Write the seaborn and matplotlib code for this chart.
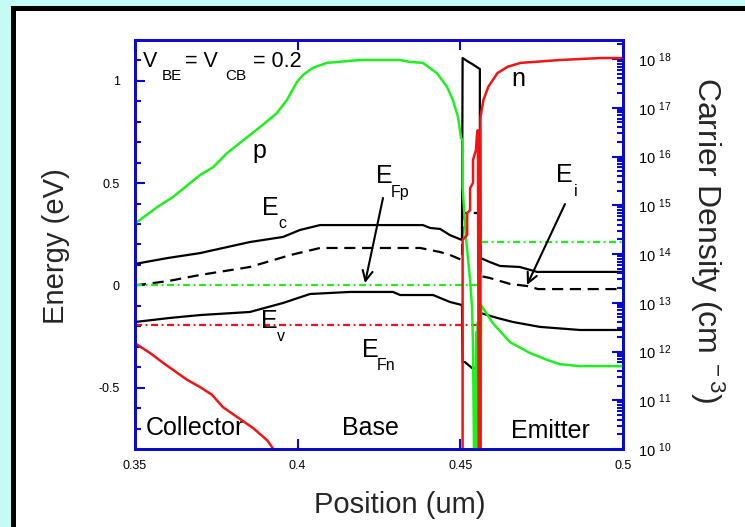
import matplotlib
matplotlib.use('Agg')
import matplotlib.pyplot as plt
import matplotlib.ticker as mticker
from matplotlib.patches import Rectangle
import seaborn as sns

# ---------------- data ----------------
# Conduction band Ec (eV)
ec_x = [0.3500, 0.3601, 0.3700, 0.3853, 0.3955, 0.4007, 0.4069, 0.4385, 0.4407, 0.4438,
        0.4468, 0.4505, 0.4507, 0.4521, 0.4536, 0.4560, 0.4560, 0.4562, 0.4591, 0.4622,
        0.4683, 0.4736, 0.5000]
ec_e = [0.105, 0.134, 0.158, 0.212, 0.237, 0.271, 0.295, 0.295, 0.281, 0.276,
        0.246, 0.222, 1.112, 1.097, 1.083, 1.058, 0.823, 0.134, 0.114, 0.095,
        0.090, 0.066, 0.066]
# Intrinsic level Ei (eV)
ei_x = [0.3500, 0.3601, 0.3700, 0.3853, 0.3979, 0.4069, 0.4377, 0.4438, 0.4468, 0.4505,
        0.4507, 0.4542, 0.4560, 0.4562, 0.4591, 0.4653, 0.4705, 0.4739, 0.5000]
ei_e = [0.000, 0.021, 0.051, 0.090, 0.149, 0.183, 0.183, 0.163, 0.149, 0.124,
        0.354, 0.354, 0.354, 0.046, 0.036, 0.007, -0.003, -0.018, -0.018]
# Valence band Ev (eV)
ev_x = [0.3500, 0.3608, 0.3700, 0.3853, 0.3955, 0.4038, 0.4161, 0.4293, 0.4315, 0.4416,
        0.4468, 0.4505, 0.4507, 0.4514, 0.4536, 0.4560, 0.4562, 0.4613, 0.4662, 0.4745,
        0.4868, 0.5000]
ev_e = [-0.179, -0.159, -0.145, -0.130, -0.086, -0.042, -0.032, -0.032, -0.047, -0.047,
        -0.081, -0.096, -0.375, -0.375, -0.404, -0.404, -0.135, -0.159, -0.179, -0.203,
        -0.218, -0.218]
# Quasi-Fermi levels (eV)
efp_base_x = [0.3500, 0.4554]
efp_base_e = [0.0, 0.0]
efp_emit_x = [0.4564, 0.5000]
efp_emit_e = [0.21, 0.21]
efn_x = [0.3500, 0.4551]
efn_e = [-0.195, -0.195]

# Hole density p (log10 cm^-3)
p_x = [0.3500, 0.3515, 0.3568, 0.3617, 0.3700, 0.3740, 0.3783, 0.3893, 0.3936, 0.3967,
       0.3998, 0.4016, 0.4047, 0.4090, 0.4192, 0.4315, 0.4345, 0.4385, 0.4428, 0.4459,
       0.4477, 0.4493, 0.4502, 0.4507, 0.4507, 0.4517, 0.4530, 0.4536, 0.4539, 0.4542,
       0.4545, 0.4549, 0.4551, 0.4554, 0.4556, 0.4559, 0.4561, 0.4564, 0.4600, 0.4653,
       0.4714, 0.4766, 0.4806, 0.4868, 0.5000]
p_log = [14.62, 14.70, 14.96, 15.17, 15.62, 15.78, 16.07, 16.65, 16.89, 17.16,
         17.53, 17.67, 17.82, 17.92, 17.98, 17.98, 17.94, 17.92, 17.71, 17.43,
         17.16, 16.81, 16.38, 16.34, 15.37, 14.35, 13.47, 12.91, 12.09, 10.00,
         9.50, 12.40, 9.50, 12.60, 9.50, 12.80, 9.50, 12.95, 12.58, 12.19,
         11.97, 11.83, 11.74, 11.70, 11.70]
# Electron density n (log10 cm^-3)
n_x = [0.3500, 0.3546, 0.3592, 0.3660, 0.3700, 0.3737, 0.3770, 0.3813, 0.3863, 0.3906,
       0.3921, 0.3946, 0.4400, 0.4507, 0.4507, 0.4521, 0.4521, 0.4530, 0.4530, 0.4539,
       0.4539, 0.4548, 0.4551, 0.4554, 0.4557, 0.4562, 0.4562, 0.4571, 0.4586, 0.4614,
       0.4645, 0.4685, 0.4808, 0.4931, 0.5000]
n_log = [12.17, 11.97, 11.74, 11.42, 11.27, 11.11, 10.86, 10.66, 10.43, 10.18,
         10.04, 9.80, 9.00, 9.00, 14.29, 14.39, 14.84, 14.90, 15.35, 15.46,
         15.93, 16.13, 16.44, 16.54, 9.00, 9.00, 16.81, 17.16, 17.43, 17.71,
         17.84, 17.92, 17.98, 18.02, 18.02]

x_ticks = [0.35, 0.4, 0.45, 0.5]
x_ticklabels = ['0.35', '0.4', '0.45', '0.5']
dens_exps = [10, 11, 12, 13, 14, 15, 16, 17, 18]

# ---------------- style ----------------
sns.set_style('white')
plt.rcParams['font.family'] = ['Liberation Sans', 'DejaVu Sans']
plt.rcParams['mathtext.fontset'] = 'custom'
plt.rcParams['mathtext.rm'] = 'Liberation Sans'
plt.rcParams['mathtext.it'] = 'Liberation Sans:italic'
plt.rcParams['mathtext.bf'] = 'Liberation Sans:bold'

BLUE = '#0a0acc'
GREEN = '#1ef01e'
RED = '#f01414'
W, H = 745, 527

fig = plt.figure(figsize=(W / 100, H / 100), dpi=100)
fig.patch.set_facecolor('#c6fbf3')
fig.patches.append(Rectangle((12.5 / W, -0.1), 1.2, 1.1 - 7.5 / H,
                             transform=fig.transFigure, figure=fig,
                             facecolor='white', edgecolor='black', lw=3.6, zorder=-10))

AX_L, AX_R, AX_T, AX_B = 135, 623, 40, 449
ax = fig.add_axes([AX_L / W, 1 - AX_B / H, (AX_R - AX_L) / W, (AX_B - AX_T) / H])
ax.set_facecolor('white')
ax2 = ax.twinx()

YMIN, YMAX = -0.8, 1.2
XMIN, XMAX = 0.35, 0.5
LOGTOP = 10 + (AX_B - AX_T) / 48.75


def P(px, py):
    return (XMIN + (px - AX_L) / (AX_R - AX_L) * (XMAX - XMIN),
            YMAX - (py - AX_T) / (AX_B - AX_T) * (YMAX - YMIN))


LW = 1.6
dashdot = (0, (3.2, 1.6, 0.8, 1.6))
kw = dict(ax=ax, sort=False, estimator=None, lw=LW)
sns.lineplot(x=ec_x, y=ec_e, color='black', **kw)
sns.lineplot(x=ev_x, y=ev_e, color='black', **kw)
sns.lineplot(x=ei_x, y=ei_e, color='black', linestyle=(0, (5, 3)), **kw)
sns.lineplot(x=efp_base_x, y=efp_base_e, color=GREEN, linestyle=dashdot, **kw)
sns.lineplot(x=efp_emit_x, y=efp_emit_e, color=GREEN, linestyle=dashdot, **kw)
sns.lineplot(x=efn_x, y=efn_e, color=RED, linestyle=dashdot, **kw)

ax2.set_yscale('log')
p_vals = [10 ** v for v in p_log]
n_vals = [10 ** v for v in n_log]
sns.lineplot(x=p_x, y=p_vals, ax=ax2, sort=False, estimator=None, lw=1.8, color=GREEN)
sns.lineplot(x=n_x, y=n_vals, ax=ax2, sort=False, estimator=None, lw=1.8, color=RED)

ax.set_xlim(XMIN, XMAX)
ax.set_ylim(YMIN, YMAX)
ax2.set_ylim(1e10, 10 ** LOGTOP)
ax2.set_xlim(XMIN, XMAX)

ax.xaxis.set_major_locator(mticker.FixedLocator(x_ticks))
ax.xaxis.set_major_formatter(mticker.FixedFormatter(x_ticklabels))
ax.yaxis.set_major_locator(mticker.MultipleLocator(0.5))
ax.yaxis.set_minor_locator(mticker.MultipleLocator(0.1))
ax.yaxis.set_major_formatter(mticker.FuncFormatter(lambda v, pos: '%g' % round(v, 2)))

ax.tick_params(axis='both', which='both', direction='in', color=BLUE,
               labelcolor='black', width=1.5)
ax.tick_params(axis='x', which='major', top=True, bottom=True, length=7, pad=8, labelsize=9)
ax.tick_params(axis='y', which='major', left=True, right=False, length=7, pad=11, labelsize=9)
ax.tick_params(axis='y', which='minor', left=True, right=False, length=4)
ax.set_xlabel('')
ax.set_ylabel('')

ax2.yaxis.set_major_locator(mticker.FixedLocator([10.0 ** e for e in dens_exps]))
ax2.yaxis.set_major_formatter(mticker.FixedFormatter([r'10$\,^{\;%d}$' % e for e in dens_exps]))
ax2.yaxis.set_minor_locator(mticker.LogLocator(base=10, subs=[2, 3, 4, 5, 6, 7, 8, 9], numticks=50))
ax2.yaxis.set_minor_formatter(mticker.NullFormatter())
ax2.tick_params(axis='y', which='both', direction='in', color=BLUE, labelcolor='black',
                width=1.5, left=False, right=True)
ax2.tick_params(axis='y', which='major', length=8, pad=11, labelsize=10.5)
ax2.tick_params(axis='y', which='minor', length=4)
ax2.set_xlabel('')
ax2.set_ylabel('')

for a in (ax, ax2):
    for s in a.spines.values():
        s.set_color(BLUE)
        s.set_linewidth(2)
        s.set_visible(True)

# ---------------- annotations ----------------
def txt(px, py, s, size):
    x, y = P(px, py)
    ax.text(x, y, s, fontsize=size, ha='left', va='baseline', color='black', zorder=5)

BIG, SUB = 18, 11.5
txt(143, 67, 'V', 15.5); txt(162, 80, 'BE', 11); txt(185, 67, '= V', 15.5)
txt(225, 80, 'CB', 11); txt(253, 67, '= 0.2', 15.5)
txt(252, 158, 'p', BIG)
txt(511, 86, 'n', BIG)
txt(262, 215, 'E', BIG); txt(278, 228, 'c', SUB)
txt(376, 183, 'E', BIG); txt(391, 197, 'Fp', SUB)
txt(261, 328, 'E', BIG); txt(277, 341, 'v', SUB)
txt(362, 357, 'E', BIG); txt(377, 370, 'Fn', SUB)
txt(556, 182, 'E', BIG); txt(574, 196, 'i', SUB)
txt(146, 435, 'Collector', BIG)
txt(342, 435, 'Base', BIG)
txt(511, 438, 'Emitter', BIG)

arrow = dict(arrowstyle='->', color='black', lw=1.5, mutation_scale=18, shrinkA=0, shrinkB=0)
ax.annotate('', xy=P(365, 283), xytext=P(383, 198), arrowprops=arrow, zorder=5)
ax.annotate('', xy=P(527, 285), xytext=P(565, 204), arrowprops=arrow, zorder=5)

fig.text(56 / W, 1 - 246 / H, 'Energy (eV)', rotation=90, ha='center', va='center', fontsize=21)
fig.text(400 / W, 1 - 505 / H, 'Position (um)', ha='center', va='center', fontsize=21)
fig.text(707 / W, 1 - 240 / H, r'Carrier Density (cm$^{\ -3}$)', rotation=270,
         ha='center', va='center', fontsize=23)

fig.savefig('out.png', dpi=100, facecolor=fig.get_facecolor())
